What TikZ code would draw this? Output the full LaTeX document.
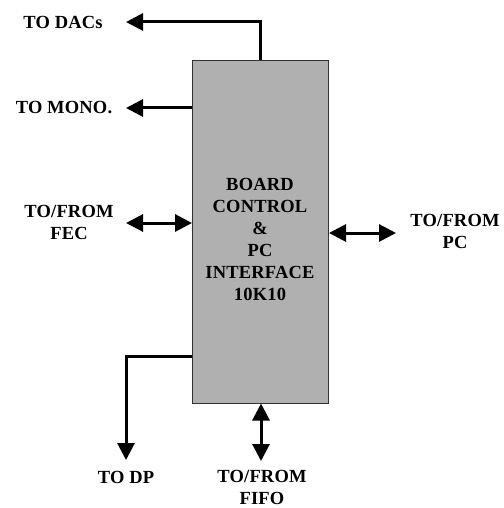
\documentclass[tikz,border=0pt]{standalone}
\usepackage{fontspec}
\setmainfont{Liberation Serif}[LetterSpace=1]
\usetikzlibrary{arrows.meta}
\definecolor{boxgray}{RGB}{176,176,176}
\tikzset{
  conn/.style={line width=3pt, -{Triangle[length=17pt,width=17pt]}},
  bconn/.style={line width=3pt, {Triangle[length=17pt,width=17pt]}-{Triangle[length=17pt,width=17pt]}},
  lbl/.style={font=\fontsize{18.5}{22}\selectfont\bfseries, align=center, inner sep=0pt},
}
\begin{document}
\begin{tikzpicture}[x=1pt,y=-1pt]
\useasboundingbox (0,0) rectangle (503,508);
\node[draw=black!80, line width=1pt, fill=boxgray, minimum width=136pt, minimum height=342pt, inner sep=0pt] (box) at (260.5,232) {};
\node[lbl] (boxtext) at (260,239) {BOARD\\CONTROL\\\&\\PC\\INTERFACE\\10K10};
% labels
\node[lbl] (dacs) at (63,22) {TO DACs};
\node[lbl] (mono) at (64,108) {TO MONO.};
\node[lbl] (fec) at (69,222) {TO/FROM\\FEC};
\node[lbl] (pc) at (455,231) {TO/FROM\\PC};
\node[lbl] (dp) at (126,477) {TO DP};
\node[lbl] (fifo) at (262,487) {TO/FROM\\FIFO};
% tip coordinates
\coordinate (tdacs) at (126,22);
\coordinate (tmono) at (126,108);
\coordinate (tfec) at (126,223);
\coordinate (tpc) at (396,233);
\coordinate (tdp) at (126,460);
\coordinate (tfifo) at (261,461);
\coordinate (dpcorner) at (126,356);
% connectors
\draw[conn] (box.north) |- (tdacs);
\draw[conn] (box.west |- tmono) -- (tmono);
\draw[bconn] (tfec) -- (box.west |- tfec);
\draw[bconn] (box.east |- tpc) -- (tpc);
\draw[conn] (box.west |- dpcorner) -- (dpcorner) -- (tdp);
\draw[bconn] (box.south -| tfifo) -- (tfifo);
\end{tikzpicture}
\end{document}
